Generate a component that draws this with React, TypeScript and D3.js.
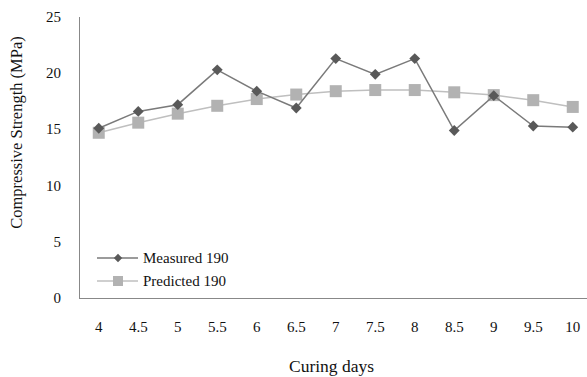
import React from "react";
import * as d3 from "d3";

const days = ["4", "4.5", "5", "5.5", "6", "6.5", "7", "7.5", "8", "8.5", "9", "9.5", "10"];
const measured = [15.1, 16.6, 17.2, 20.3, 18.4, 16.9, 21.3, 19.9, 21.3, 14.9, 18.0, 15.3, 15.2];
const predicted = [14.7, 15.6, 16.4, 17.1, 17.7, 18.1, 18.4, 18.5, 18.5, 18.3, 18.05, 17.6, 17.0];
const yTicks = [0, 5, 10, 15, 20, 25];

const W = 587;
const H = 377;
const font = "'Liberation Serif', 'Times New Roman', serif";

export default function App() {
  const x = d3.scaleBand().domain(days).range([79, 592.5]);
  const y = d3.scaleLinear().domain([0, 25]).range([298, 17]);
  const cx = (d: string) => (x(d) as number) + x.bandwidth() / 2;

  const line = d3
    .line<number>()
    .x((_, i) => cx(days[i]))
    .y((v) => y(v));

  const diamond = d3.symbol().type(d3.symbolDiamond2).size(75)();

  return (
    <svg width={W} height={H} style={{ position: "absolute", left: 0, top: 0, background: "#fff" }} fontFamily={font}>
      {/* axes */}
      <line x1={79.5} x2={79.5} y1={17} y2={298} stroke="#888" strokeWidth={1} />
      <line x1={79} x2={W} y1={298.5} y2={298.5} stroke="#888" strokeWidth={1} />

      {yTicks.map((t) => (
        <text key={t} x={61} y={y(t)} textAnchor="end" dominantBaseline="central" fontSize={15} fill="#111">
          {t}
        </text>
      ))}
      {days.map((d) => (
        <text key={d} x={cx(d)} y={327} textAnchor="middle" dominantBaseline="central" fontSize={15} fill="#111">
          {d}
        </text>
      ))}

      <text x={331.5} y={366} textAnchor="middle" dominantBaseline="central" fontSize={17.5} fill="#111">
        Curing days
      </text>
      <text
        transform={`translate(16, 132.5) rotate(-90)`}
        textAnchor="middle"
        dominantBaseline="central"
        fontSize={16.5}
        fill="#111"
      >
        Compressive Strength (MPa)
      </text>

      {/* predicted series */}
      <path d={line(predicted) || ""} fill="none" stroke="#bfbfbf" strokeWidth={1.5} />
      {predicted.map((v, i) => (
        <rect key={i} x={cx(days[i]) - 6} y={y(v) - 6} width={12} height={12} fill="#b2b2b2" />
      ))}

      {/* measured series */}
      <path d={line(measured) || ""} fill="none" stroke="#7a7a7a" strokeWidth={1.5} />
      {measured.map((v, i) => (
        <path key={i} d={diamond || ""} transform={`translate(${cx(days[i])},${y(v)})`} fill="#595959" />
      ))}

      {/* legend */}
      <g>
        <line x1={97} x2={138} y1={258} y2={258} stroke="#7a7a7a" strokeWidth={1.5} />
        <path d={d3.symbol().type(d3.symbolDiamond2).size(45)() || ""} transform="translate(118,258)" fill="#595959" />
        <text x={143} y={258} dominantBaseline="central" fontSize={15} fill="#111">
          Measured 190
        </text>
        <line x1={97} x2={138} y1={281} y2={281} stroke="#bfbfbf" strokeWidth={1.5} />
        <rect x={113} y={276} width={10} height={10} fill="#b2b2b2" />
        <text x={143} y={281} dominantBaseline="central" fontSize={15} fill="#111">
          Predicted 190
        </text>
      </g>
    </svg>
  );
}
